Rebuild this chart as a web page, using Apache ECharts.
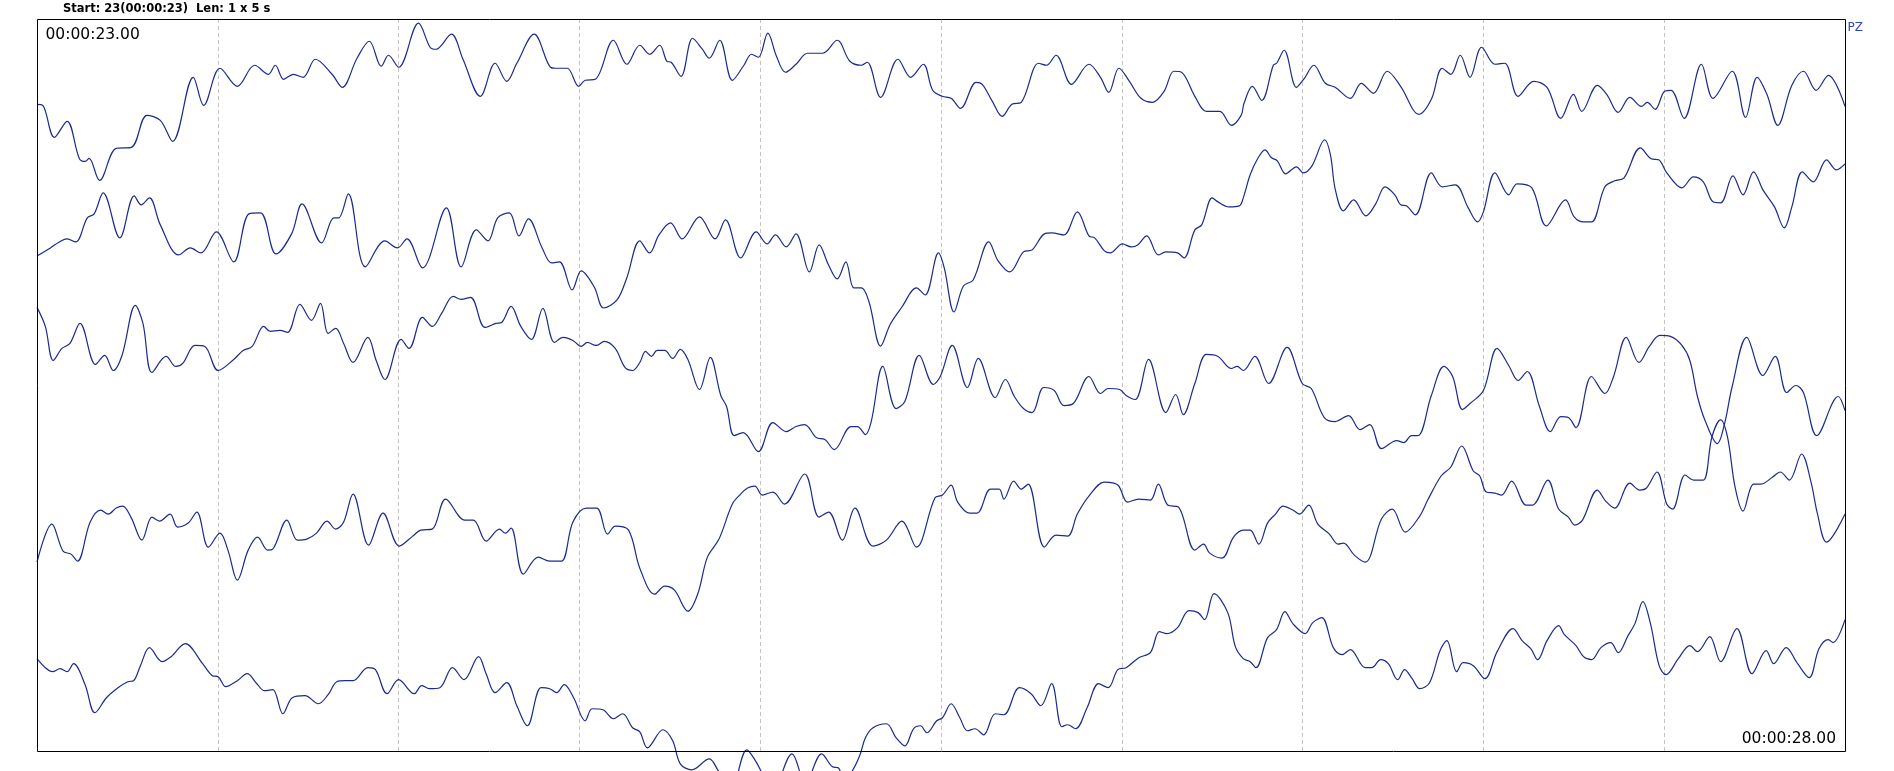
<!DOCTYPE html>
<html>
<head>
<meta charset="utf-8">
<title>PZ 00:00:23</title>
<script src="https://cdn.jsdelivr.net/npm/echarts@6/dist/echarts.min.js"></script>
<style>
html,body{margin:0;padding:0;background:#fff;}
#main{width:1894px;height:771px;}
</style>
</head>
<body>
<div id="main"></div>
<script>
// page info
var startLabel = "Start: 23(00:00:23)  Len: 1 x 5 s";
var beginTime = "00:00:23.00";
var endTime = "00:00:28.00";
var channelName = "PZ";
var pageLen = 5;       // s
var gridStep = 0.5;    // s between dashed lines
var rowSpacing = 146.4; // amplitude units between rows

// [time in s, amplitude], one list per row
var row1 = [[0,-12],[0.016,-13],[0.048,-45],[0.083,-29],[0.117,-66],[0.133,-69],[0.144,-66],[0.173,-88],[0.219,-56],[0.261,-55],[0.304,-23],[0.341,-28],[0.375,-49],[0.432,15],[0.461,-13],[0.506,24],[0.554,6],[0.602,27],[0.640,18],[0.659,27],[0.682,13],[0.709,18],[0.736,15],[0.770,33],[0.816,18],[0.844,5],[0.885,34],[0.919,51],[0.952,26],[0.972,37],[1.000,25],[1.055,69],[1.087,45],[1.103,43],[1.146,58],[1.178,33],[1.226,-4],[1.267,29],[1.299,11],[1.327,29],[1.375,58],[1.420,25],[1.434,24],[1.466,24],[1.498,6],[1.516,12],[1.544,13],[1.594,52],[1.631,28],[1.667,47],
	[1.694,38],[1.722,47],[1.742,31],[1.754,30],[1.781,16],[1.813,54],[1.840,43],[1.859,34],[1.888,52],[1.923,12],[1.955,27],[1.976,38],[1.995,35],[2.021,59],[2.045,36],[2.070,20],[2.099,28],[2.131,39],[2.173,39],[2.213,52],[2.248,31],[2.280,27],[2.296,30],[2.333,-5],[2.381,33],[2.416,15],[2.451,28],[2.477,2],[2.503,-4],[2.528,-6],[2.554,-16],[2.597,10],[2.614,8],[2.642,-9],[2.669,-24],[2.696,-12],[2.722,-10],[2.770,29],[2.792,27],[2.818,37],[2.861,8],[2.909,28],[2.941,15],[2.964,0],[2.992,24],[3.021,11],[3.053,-6],[3.085,-10],[3.117,1],[3.144,21],[3.165,20],[3.202,-4],[3.234,-19],[3.271,-19],[3.303,-33],[3.330,-23],[3.338,-11],
	[3.361,6],[3.387,-8],[3.419,27],[3.428,29],[3.449,42],[3.483,5],[3.505,14],[3.531,27],[3.563,9],[3.590,5],[3.632,-6],[3.662,9],[3.696,-1],[3.734,21],[3.771,6],[3.822,-22],[3.856,-7],[3.886,24],[3.910,18],[3.936,37],[3.963,15],[3.995,45],[4.032,28],[4.059,29],[4.096,-4],[4.139,11],[4.176,5],[4.214,-26],[4.249,-2],[4.272,-19],[4.315,7],[4.341,-2],[4.373,-20],[4.405,-5],[4.437,-14],[4.453,-10],[4.475,-17],[4.501,1],[4.519,2],[4.555,-26],[4.603,28],[4.635,-6],[4.688,21],[4.725,-25],[4.757,15],[4.784,-2],[4.814,-33],[4.853,7],[4.885,21],[4.920,2],[4.954,17],[5.0,-14]];

var row2 = [[0,-17],[0.037,-9],[0.062,-3],[0.083,0],[0.107,-3],[0.139,21],[0.158,25],[0.183,46],[0.229,1],[0.269,43],[0.288,34],[0.311,41],[0.341,14],[0.392,-16],[0.424,-9],[0.453,-14],[0.496,7],[0.544,-23],[0.586,25],[0.618,26],[0.661,-15],[0.704,5],[0.733,35],[0.787,-4],[0.821,21],[0.834,21],[0.861,45],[0.908,-28],[0.962,-2],[0.997,-9],[1.023,0],[1.066,-29],[1.132,31],[1.173,-28],[1.215,9],[1.247,-2],[1.274,21],[1.306,26],[1.333,3],[1.359,20],[1.397,-9],[1.423,-24],[1.445,-23],[1.480,-51],[1.505,-32],[1.541,-48],[1.567,-69],[1.604,-61],[1.631,-39],[1.667,-2],
	[1.694,-14],[1.720,4],[1.752,16],[1.784,0],[1.832,22],[1.875,0],[1.904,19],[1.946,-19],[1.989,7],[2.019,-5],[2.042,4],[2.072,-8],[2.099,5],[2.136,-33],[2.163,-6],[2.189,-26],[2.213,-40],[2.237,-23],[2.259,-49],[2.280,-49],[2.301,-63],[2.333,-107],[2.360,-85],[2.392,-68],[2.432,-49],[2.456,-56],[2.493,-14],[2.509,-29],[2.536,-73],[2.562,-47],[2.589,-41],[2.632,-3],[2.658,-22],[2.690,-33],[2.728,-13],[2.752,-11],[2.786,5],[2.806,6],[2.840,4],[2.877,27],[2.909,3],[2.925,1],[2.952,-12],[2.968,-14],[3.002,-5],[3.026,-8],[3.044,-6],[3.069,3],[3.101,-16],[3.122,-13],[3.154,-14],[3.172,-19],[3.202,9],[3.221,14],[3.250,41],[3.266,37],[3.296,32],[3.325,33],[3.336,41],
	[3.355,64],[3.377,81],[3.396,89],[3.414,81],[3.430,78],[3.453,65],[3.483,72],[3.502,66],[3.526,73],[3.561,99],[3.577,84],[3.590,50],[3.613,28],[3.641,39],[3.675,23],[3.702,35],[3.728,52],[3.755,44],[3.771,34],[3.787,33],[3.812,24],[3.856,66],[3.886,52],[3.922,54],[3.958,31],[3.984,17],[4.000,27],[4.032,66],[4.070,44],[4.093,55],[4.134,51],[4.174,13],[4.227,39],[4.251,22],[4.277,17],[4.299,17],[4.336,52],[4.363,58],[4.389,61],[4.434,91],[4.464,80],[4.485,79],[4.507,66],[4.549,51],[4.581,62],[4.608,57],[4.635,37],[4.656,36],[4.690,63],[4.718,44],[4.747,67],[4.773,49],[4.805,32],[4.832,11],[4.853,32],[4.882,67],[4.912,57],[4.949,79],[4.976,69],[5.0,75]];

var row3 = [[0,78],[0.023,59],[0.045,25],[0.069,37],[0.091,42],[0.119,62],[0.162,21],[0.187,30],[0.211,15],[0.235,30],[0.272,80],[0.293,62],[0.318,13],[0.357,29],[0.384,19],[0.403,22],[0.437,40],[0.464,39],[0.501,15],[0.544,26],[0.570,35],[0.595,39],[0.627,59],[0.645,54],[0.672,55],[0.693,53],[0.727,81],[0.759,65],[0.784,82],[0.805,52],[0.826,57],[0.848,42],[0.874,23],[0.915,48],[0.938,25],[0.962,6],[1.007,46],[1.029,37],[1.066,68],[1.093,59],[1.119,72],[1.151,89],[1.173,86],[1.199,88],[1.239,58],[1.269,62],[1.285,63],[1.311,79],[1.338,59],[1.367,46],[1.399,77],[1.431,43],[1.455,48],[1.482,45],[1.505,39],[1.522,43],[1.546,40],[1.569,44],[1.599,37],[1.626,18],[1.647,15],[1.667,23],
	[1.683,34],[1.699,29],[1.715,35],[1.736,35],[1.758,27],[1.779,36],[1.800,26],[1.832,-4],[1.862,28],[1.891,-10],[1.907,-21],[1.928,-50],[1.953,-47],[1.995,-66],[2.035,-37],[2.072,-46],[2.099,-41],[2.123,-39],[2.155,-52],[2.179,-54],[2.205,-64],[2.251,-41],[2.269,-41],[2.291,-49],[2.307,-36],[2.339,19],[2.376,-23],[2.400,-16],[2.440,30],[2.479,1],[2.498,9],[2.531,40],[2.573,-2],[2.603,27],[2.650,-12],[2.678,6],[2.703,-11],[2.728,-23],[2.752,-27],[2.784,-2],[2.813,-5],[2.840,-20],[2.866,-18],[2.909,9],[2.941,-8],[2.962,-3],[2.994,-4],[3.012,-10],[3.037,-14],[3.074,26],[3.122,-27],[3.149,-9],[3.170,-29],[3.202,2],[3.234,31],[3.266,29],[3.303,17],[3.319,19],[3.336,15],
	[3.368,29],[3.406,2],[3.457,38],[3.499,2],[3.524,-3],[3.560,-32],[3.590,-36],[3.627,-30],[3.659,-44],[3.686,-39],[3.718,-63],[3.760,-55],[3.780,-57],[3.801,-50],[3.819,-50],[3.856,-10],[3.891,19],[3.915,9],[3.942,-24],[3.963,-18],[4.000,-5],[4.038,37],[4.070,20],[4.096,5],[4.121,14],[4.155,-21],[4.185,-46],[4.214,-31],[4.235,-32],[4.256,-42],[4.299,9],[4.336,-8],[4.360,9],[4.395,48],[4.430,23],[4.459,39],[4.488,50],[4.517,49],[4.549,40],[4.571,25],[4.592,-11],[4.613,-35],[4.647,-58],[4.667,-38],[4.688,-1],[4.728,48],[4.773,10],[4.807,29],[4.839,-7],[4.864,0],[4.885,-7],[4.922,-50],[4.981,-11],[5.0,-25]];

var row4 = [[0,-30],[0.041,8],[0.072,-19],[0.094,-22],[0.112,-29],[0.147,10],[0.176,22],[0.197,18],[0.219,24],[0.237,26],[0.261,14],[0.290,-8],[0.318,15],[0.339,11],[0.368,18],[0.389,5],[0.418,9],[0.442,20],[0.474,-15],[0.506,-1],[0.528,-18],[0.554,-48],[0.584,-18],[0.610,-5],[0.638,-18],[0.652,-17],[0.691,12],[0.720,-8],[0.746,-7],[0.773,-1],[0.802,11],[0.826,3],[0.848,10],[0.874,38],[0.917,-13],[0.957,19],[1.002,-14],[1.039,-4],[1.061,2],[1.093,3],[1.130,33],[1.183,12],[1.207,12],[1.242,-9],[1.279,3],[1.295,-1],[1.311,4],[1.345,-42],[1.386,-25],[1.418,-29],[1.450,-29],[1.482,10],[1.519,24],[1.548,24],[1.578,-2],[1.599,6],[1.636,2],[1.667,-36],
	[1.708,-62],[1.736,-54],[1.763,-58],[1.800,-79],[1.827,-62],[1.854,-25],[1.886,-7],[1.923,28],[1.946,38],[1.965,44],[1.985,46],[2.006,37],[2.035,40],[2.067,28],[2.123,58],[2.163,15],[2.189,20],[2.227,-8],[2.262,24],[2.312,-14],[2.349,-8],[2.392,11],[2.432,-15],[2.483,34],[2.504,37],[2.528,47],[2.546,30],[2.579,19],[2.600,19],[2.637,43],[2.661,43],[2.674,33],[2.701,51],[2.722,43],[2.741,48],[2.786,-15],[2.818,-3],[2.850,-4],[2.877,18],[2.909,36],[2.952,50],[2.989,47],[3.016,30],[3.047,33],[3.079,32],[3.101,48],[3.127,27],[3.157,25],[3.202,-18],[3.226,-12],[3.243,-21],[3.277,-26],[3.309,-5],[3.336,2],
	[3.355,2],[3.379,-12],[3.403,9],[3.425,18],[3.446,26],[3.473,22],[3.492,18],[3.517,27],[3.542,8],[3.574,-2],[3.598,-12],[3.613,-11],[3.643,-23],[3.673,-30],[3.718,13],[3.748,23],[3.784,0],[3.824,16],[3.846,32],[3.883,56],[3.910,65],[3.940,86],[3.972,61],[3.990,56],[4.008,40],[4.032,39],[4.050,37],[4.078,51],[4.118,27],[4.136,27],[4.178,52],[4.208,23],[4.235,15],[4.253,7],[4.274,12],[4.315,42],[4.338,31],[4.363,24],[4.405,49],[4.432,42],[4.451,44],[4.480,60],[4.507,28],[4.523,23],[4.558,57],[4.581,52],[4.608,52],[4.632,95],[4.656,112],[4.675,95],[4.696,45],[4.718,21],[4.747,48],[4.768,48],[4.800,55],[4.821,60],[4.846,52],[4.880,78],[4.906,50],[4.924,18],[4.949,-10],[5.0,18]];

var row5 = [[0,20],[0.023,11],[0.043,7],[0.064,10],[0.083,7],[0.101,15],[0.133,-6],[0.160,-34],[0.192,-19],[0.224,-9],[0.251,-3],[0.267,-2],[0.286,13],[0.311,31],[0.346,17],[0.371,22],[0.410,35],[0.458,15],[0.485,3],[0.501,2],[0.522,-8],[0.554,-2],[0.581,5],[0.608,-5],[0.629,-12],[0.652,-11],[0.680,-35],[0.706,-19],[0.741,-17],[0.778,-25],[0.805,-16],[0.829,-3],[0.853,-2],[0.874,-2],[0.915,11],[0.936,9],[0.968,-15],[1.000,-1],[1.043,-15],[1.064,-7],[1.085,-10],[1.114,-9],[1.149,11],[1.181,-1],[1.221,22],[1.242,5],[1.267,-14],[1.299,-4],[1.327,-27],[1.356,-47],[1.394,-9],[1.418,-10],[1.437,-14],[1.458,-6],[1.484,-19],[1.516,-42],[1.535,-30],[1.565,-31],[1.594,-40],[1.620,-35],[1.647,-49],[1.667,-53],
	[1.688,-69],[1.731,-51],[1.758,-62],[1.779,-85],[1.811,-91],[1.859,-80],[1.886,-93],[1.920,-108],[1.963,-71],[1.987,-82],[2.035,-110],[2.088,-75],[2.125,-104],[2.170,-75],[2.200,-88],[2.216,-89],[2.232,-100],[2.253,-93],[2.275,-77],[2.291,-59],[2.312,-49],[2.349,-45],[2.376,-59],[2.400,-67],[2.424,-50],[2.443,-47],[2.461,-54],[2.488,-42],[2.504,-39],[2.528,-25],[2.552,-39],[2.573,-52],[2.594,-50],[2.618,-56],[2.650,-35],[2.674,-36],[2.717,-9],[2.749,-15],[2.776,-27],[2.806,-5],[2.834,-48],[2.850,-46],[2.872,-50],[2.904,-29],[2.936,-5],[2.962,-9],[2.989,9],[3.012,11],[3.047,21],[3.079,26],[3.104,47],[3.125,45],[3.154,51],[3.186,68],[3.211,66],[3.229,59],[3.255,85],[3.293,66],[3.314,32],[3.336,20],
	[3.355,17],[3.371,11],[3.403,41],[3.428,49],[3.451,67],[3.473,55],[3.507,45],[3.528,56],[3.553,61],[3.585,31],[3.609,24],[3.632,29],[3.673,11],[3.691,11],[3.716,19],[3.737,15],[3.763,-1],[3.782,9],[3.803,0],[3.824,-10],[3.851,-4],[3.880,28],[3.899,38],[3.926,7],[3.944,16],[3.972,13],[4.004,0],[4.038,27],[4.082,50],[4.107,38],[4.131,30],[4.150,19],[4.176,38],[4.208,53],[4.224,44],[4.256,33],[4.277,22],[4.299,19],[4.325,31],[4.352,36],[4.373,26],[4.400,43],[4.419,55],[4.441,77],[4.462,55],[4.486,13],[4.505,4],[4.539,20],[4.571,33],[4.592,27],[4.626,42],[4.656,17],[4.701,50],[4.743,5],[4.782,28],[4.803,15],[4.837,31],[4.869,15],[4.901,1],[4.928,30],[4.954,39],[4.967,36],[5.0,59]];

var rows = [row1, row2, row3, row4, row5];

var traceColor = "#1c2a8e";
var font = "'DejaVu Sans', Verdana, sans-serif";

var myChart = echarts.init(document.getElementById('main'), null, {renderer: 'canvas'});

// each row sits on its own baseline, top row highest
var series = [];
for (var i = 0; i < rows.length; i++) {
	var base = (rows.length - i - 0.5) * rowSpacing;
	var pts = [];
	for (var j = 0; j < rows[i].length; j++) {
		pts.push([rows[i][j][0], base + rows[i][j][1]]);
	}
	series.push({
		name: channelName + "_" + (i + 1),
		type: 'line',
		data: pts,
		smooth: 0.35,
		showSymbol: false,
		clip: false,
		silent: true,
		lineStyle: {color: traceColor, width: 1.2}
	});
}

var option = {
	animation: false,
	backgroundColor: '#fff',
	grid: {left: 37, top: 19, width: 1808, height: 733, show: false},
	xAxis: {
		type: 'value',
		min: 0,
		max: pageLen,
		interval: gridStep,
		axisLine: {show: false},
		axisTick: {show: false},
		axisLabel: {show: false},
		splitLine: {show: true, lineStyle: {color: '#c4c4c4', type: [4, 3], width: 1}}
	},
	yAxis: {
		type: 'value',
		min: 0,
		max: rows.length * rowSpacing,
		axisLine: {show: false},
		axisTick: {show: false},
		axisLabel: {show: false},
		splitLine: {show: false}
	},
	series: series,
	graphic: [
		{type: 'rect', z: 100, silent: true,
			shape: {x: 37.5, y: 19.5, width: 1808, height: 732},
			style: {fill: null, stroke: '#000', lineWidth: 1}},
		{type: 'text', z: 102, x: 63, y: 9.5,
			style: {text: startLabel, font: 'bold 11.5px ' + font, fill: '#000', verticalAlign: 'middle'}},
		{type: 'text', z: 102, x: 45.5, y: 34.5,
			style: {text: beginTime, font: '15.5px ' + font, fill: '#000', verticalAlign: 'middle'}},
		{type: 'text', z: 102, x: 1836, y: 738.5,
			style: {text: endTime, font: '15.5px ' + font, fill: '#000', align: 'right', verticalAlign: 'middle'}},
		{type: 'text', z: 102, x: 1847.5, y: 28,
			style: {text: channelName, font: '12px ' + font, fill: '#2a48b8', verticalAlign: 'middle'}}
	]
};
myChart.setOption(option);
</script>
</body>
</html>
